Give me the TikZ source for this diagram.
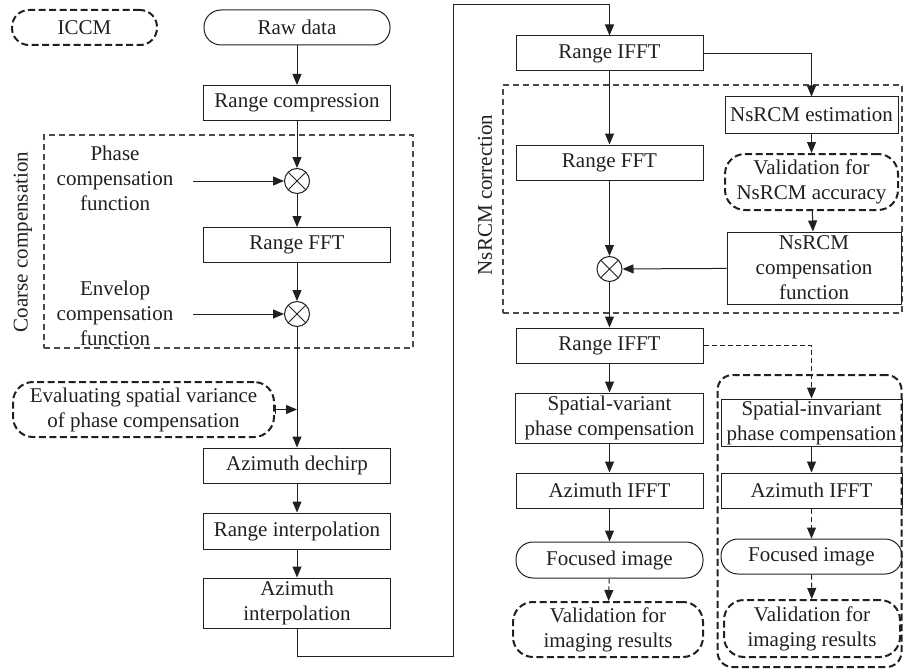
\documentclass[tikz,border=0pt]{standalone}
\usepackage{fontspec}
\setmainfont{Liberation Serif}
\usetikzlibrary{arrows.meta}
\definecolor{ink}{HTML}{231F20}
\definecolor{dgray}{HTML}{4A4A4A}
\tikzset{
  every node/.style={font=\fontsize{21}{25}\selectfont, text=ink},
  box/.style={draw=ink, line width=1pt, inner sep=0pt, align=center, minimum width=187pt, minimum height=35pt},
  term/.style={box, rounded corners=17pt},
  dbox/.style={draw=ink, line width=2pt, dash pattern=on 7pt off 3.5pt, rounded corners=20pt, inner sep=0pt, align=center},
  thindash/.style={draw=dgray, line width=1.1pt, dash pattern=on 6pt off 4pt},
  mult/.style={circle, draw=ink, line width=1pt, minimum size=25pt, inner sep=0pt,
    path picture={\draw[ink, line width=1pt] (path picture bounding box.south west) -- (path picture bounding box.north east)
      (path picture bounding box.north west) -- (path picture bounding box.south east);}},
  lbl/.style={align=center, inner sep=0pt},
  arr/.style={draw=ink, line width=1pt, -{Triangle[length=11pt,width=9pt]}},
  darr/.style={arr, dash pattern=on 5pt off 3pt},
}
\begin{document}
\begin{tikzpicture}[x=1pt,y=-1pt]
\useasboundingbox (0,0) rectangle (903,669);

% group frames
\node[thindash, minimum width=369pt, minimum height=213pt, inner sep=0pt] (coarse) at (228.5,241.5) {};
\node[rotate=90, inner sep=0pt] (coarselbl) at (23,242) {Coarse compensation};
\node[thindash, minimum width=399pt, minimum height=228pt, inner sep=0pt] (nsframe) at (702.5,199) {};
\node[rotate=90, inner sep=0pt] (nslbl) at (485,195) {NsRCM correction};
\node[dbox, rounded corners=15pt, minimum width=184pt, minimum height=292pt] (grp) at (809.5,521) {};

% left column
\node[dbox, rounded corners=17pt, minimum width=145pt, minimum height=35pt] (iccm) at (84.5,27.5) {ICCM};
\node[term, minimum width=186pt] (raw) at (297,27.5) {Raw data};
\node[box] (rc) at (297,103) {Range compression};
\node[mult] (m1) at (297,181) {};
\node[lbl] (pcf) at (115,178) {Phase\\compensation\\function};
\coordinate (pcfs) at (193,181);
\node[box] (rfft1) at (297,245) {Range FFT};
\node[mult] (m2) at (297,314) {};
\node[lbl] (ecf) at (115,313) {Envelop\\compensation\\function};
\coordinate (ecfs) at (193,314);
\node[dbox, minimum width=261pt, minimum height=55pt] (eval) at (143.5,409.5) {Evaluating spatial variance\\of phase compensation};
\node[box] (adc) at (297,465.5) {Azimuth dechirp};
\node[box, minimum height=36pt] (ri) at (297,531) {Range interpolation};
\node[box, minimum height=50pt] (ai) at (297,603) {Azimuth\\interpolation};
\coordinate (t1) at (453,656);
\coordinate (t2) at (453,4.5);

% right part
\node[box] (rifft1) at (609.5,53.5) {Range IFFT};
\node[box, minimum width=173pt, minimum height=36pt] (nsest) at (811.5,115) {NsRCM estimation};
\node[box] (rfft2) at (609.5,162.5) {Range FFT};
\node[dbox, minimum width=173pt, minimum height=56pt] (val1) at (811.5,182) {Validation for\\NsRCM accuracy};
\node[box, minimum width=174pt, minimum height=72pt] (nscomp) at (814,268) {NsRCM\\compensation\\function};
\node[mult] (m3) at (609.5,269) {};
\node[box] (rifft2) at (609.5,345.5) {Range IFFT};
\node[box, minimum width=188pt, minimum height=50pt] (svpc) at (609.5,418) {Spatial-variant\\phase compensation};
\node[box] (aifft1) at (609.5,490.5) {Azimuth IFFT};
\node[term, minimum height=36pt] (fi1) at (609.5,560) {Focused image};
\node[dbox, minimum width=190pt, minimum height=55pt] (vir1) at (608,629.5) {Validation for\\imaging results};

\node[box, minimum width=181pt, minimum height=47pt] (sipc) at (811.5,422.5) {Spatial-invariant\\phase compensation};
\node[box, minimum width=181pt] (aifft2) at (811.5,490.5) {Azimuth IFFT};
\node[term, minimum width=181pt] (fi2) at (811.5,556.5) {Focused image};
\node[dbox, minimum width=176pt, minimum height=57pt] (vir2) at (812,628.5) {Validation for\\imaging results};

% connectors
\draw[arr] (raw) -- (rc);
\draw[arr] (rc) -- (m1);
\draw[arr] (pcfs) -- (m1);
\draw[arr] (m1) -- (rfft1);
\draw[arr] (rfft1) -- (m2);
\draw[arr] (ecfs) -- (m2);
\draw[arr] (m2) -- (adc);
\draw[draw=ink, line width=1pt, {Bar[width=9pt]}-{Triangle[length=11pt,width=9pt]}] (eval.east) -- (eval.east -| m2);
\draw[arr] (adc) -- (ri);
\draw[arr] (ri) -- (ai);
\draw[arr] (ai.south) |- (t1) -- (t2) -| (rifft1.north);
\draw[arr] (rifft1.east) -| (nsest.north);
\draw[arr] (rifft1) -- (rfft2);
\draw[arr] (nsest) -- (val1);
\draw[arr] (val1) -- (nscomp);
\draw[arr] (rfft2) -- (m3);
\draw[arr] (nscomp) -- (m3);
\draw[arr] (m3) -- (rifft2);
\draw[darr] (rifft2.east) -| (sipc.north);
\draw[arr] (rifft2) -- (svpc);
\draw[arr] (svpc) -- (aifft1);
\draw[arr] (aifft1) -- (fi1);
\draw[darr] (fi1) -- (vir1);
\draw[arr] (sipc) -- (aifft2);
\draw[darr] (aifft2) -- (fi2);
\draw[darr] (fi2) -- (vir2);
\end{tikzpicture}
\end{document}
